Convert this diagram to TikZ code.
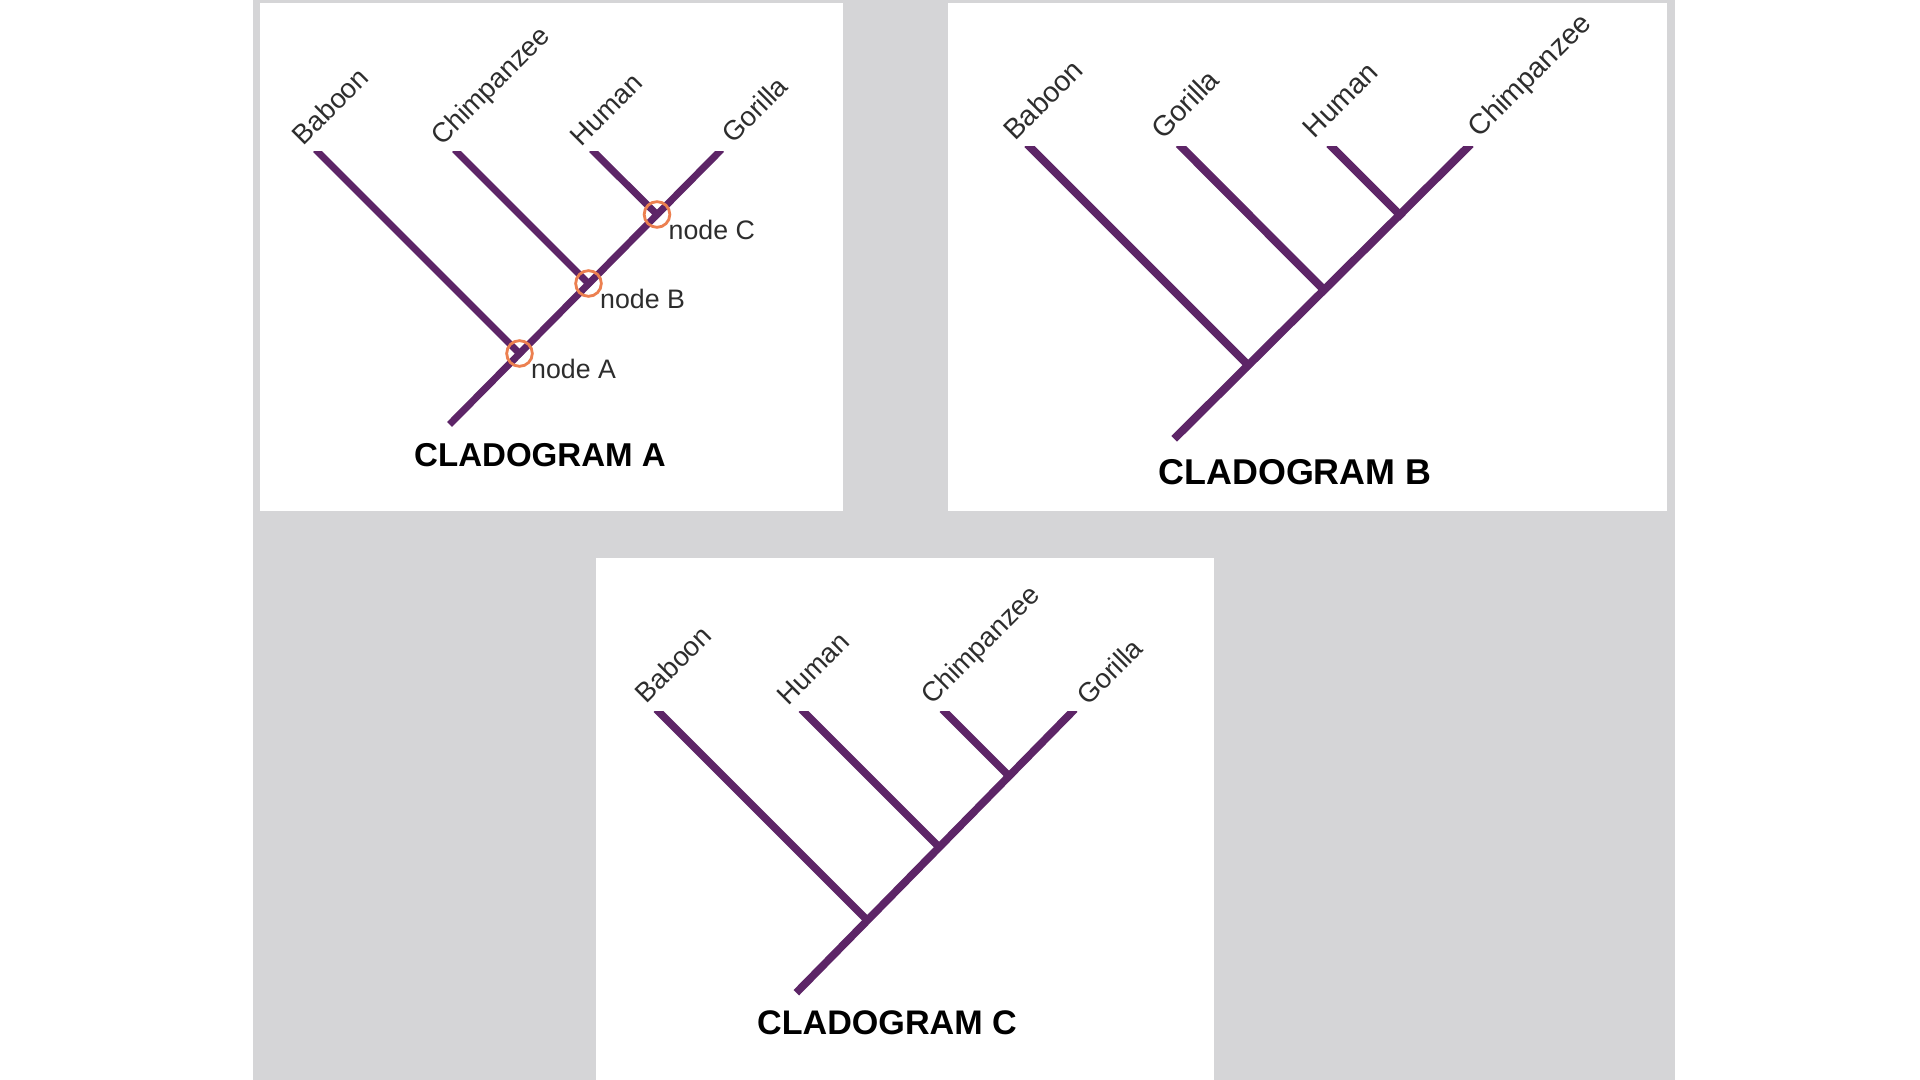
\documentclass[tikz,border=0pt]{standalone}
\usepackage{fontspec}
\setmainfont{Liberation Sans}
\definecolor{cladepurple}{RGB}{93,37,103}
\definecolor{ringorange}{RGB}{236,128,80}
\definecolor{clothgray}{RGB}{213,213,215}
\definecolor{labelgray}{RGB}{45,45,45}
\tikzstyle{whitebox}=[
      fill = white,
      draw = none
      ]
\tikzstyle{purpleline}=[
      draw = cladepurple,
      line cap = rect
      ]
\tikzstyle{taxon}=[
      rotate = 45,
      anchor = base west,
      inner sep = 0pt,
      text = labelgray,
      font = \fontsize{7.8}{9}\selectfont
      ]
\tikzstyle{ringnode}=[
      circle,
      draw = ringorange,
      line width = 0.8pt,
      inner sep = 0pt,
      minimum size = 7.3pt
      ]
\tikzstyle{nodetext}=[
      anchor = base west,
      inner sep = 0pt,
      text = labelgray,
      font = \fontsize{7.6}{9}\selectfont
      ]
\tikzstyle{titletext}=[
      inner sep = 0pt,
      text = black
      ]
\begin{document}
\begin{tikzpicture}[x=0.01cm, y=-0.01cm]
\useasboundingbox (0,0) rectangle (1920,1080);
\fill[white] (0,0) rectangle (1920,1080);
\fill[clothgray] (253,0) rectangle (1675,1080);
\path[whitebox] (260,3) rectangle (843,511);
\path[whitebox] (948,3) rectangle (1667,511);
\path[whitebox] (596,558) rectangle (1214,1080);

\coordinate (aBab) at (318,152);
\coordinate (aChi) at (457,152);
\coordinate (aHum) at (594,152);
\coordinate (aGor) at (719,152);
\coordinate (aRoot) at (452,422);
\coordinate (aNa) at (519.5,353.5);
\coordinate (aNb) at (588.5,283.5);
\coordinate (aNc) at (657,214.5);
\begin{scope}[line width=2pt]
  \clip (260,152) rectangle (843,511);
  \draw[purpleline] (aRoot) -- (aGor);
  \draw[purpleline] (aBab) -- (aNa);
  \draw[purpleline] (aChi) -- (aNb);
  \draw[purpleline] (aHum) -- (aNc);
\end{scope}
\node[taxon] (aBabText) at ([shift={(-15,-5)}]aBab) {Baboon};
\node[taxon] (aChiText) at ([shift={(-15,-5)}]aChi) {Chimpanzee};
\node[taxon] (aHumText) at ([shift={(-13,-4)}]aHum) {Human};
\node[taxon] (aGorText) at ([shift={(14,-7)}]aGor) {Gorilla};
\node[ringnode] (aRingA) at (aNa) {};
\node[ringnode] (aRingB) at (aNb) {};
\node[ringnode] (aRingC) at (aNc) {};
\node[nodetext] (aTextA) at ([shift={(11,25)}]aNa) {node A};
\node[nodetext] (aTextB) at ([shift={(11,25)}]aNb) {node B};
\node[nodetext] (aTextC) at ([shift={(11,25)}]aNc) {node C};
\node[titletext, font=\bfseries\fontsize{9.4}{11}\selectfont] (titleA) at (540,455) {CLADOGRAM A};

\coordinate (bBab) at (1030,147);
\coordinate (bGor) at (1181.5,147);
\coordinate (bHum) at (1332,147);
\coordinate (bChi) at (1468,147);
\coordinate (bRoot) at (1177,436);
\coordinate (bNa) at (1248,365);
\coordinate (bNb) at (1324,290);
\coordinate (bNc) at (1400,215);
\begin{scope}[line width=2.3pt]
  \clip (948,147) rectangle (1667,511);
  \draw[purpleline] (bRoot) -- (bChi);
  \draw[purpleline] (bBab) -- (bNa);
  \draw[purpleline] (bGor) -- (bNb);
  \draw[purpleline] (bHum) -- (bNc);
\end{scope}
\node[taxon, font=\fontsize{8.1}{10}\selectfont] (bBabText) at ([shift={(-15,-5)}]bBab) {Baboon};
\node[taxon, font=\fontsize{8.1}{10}\selectfont] (bGorText) at ([shift={(-19,-6)}]bGor) {Gorilla};
\node[taxon, font=\fontsize{8.1}{10}\selectfont] (bHumText) at ([shift={(-18,-7)}]bHum) {Human};
\node[taxon, font=\fontsize{8.1}{10}\selectfont] (bChiText) at ([shift={(11,-8)}]bChi) {Chimpanzee};
\node[titletext, font=\bfseries\fontsize{10.2}{12}\selectfont] (titleB) at (1295,472) {CLADOGRAM B};

\coordinate (cBab) at (659,712);
\coordinate (cHum) at (804,712);
\coordinate (cChi) at (945,712);
\coordinate (cGor) at (1072,712);
\coordinate (cRoot) at (799,990);
\coordinate (cNa) at (867,920);
\coordinate (cNb) at (939,847);
\coordinate (cNc) at (1009,776);
\begin{scope}[line width=2.2pt]
  \clip (596,712) rectangle (1214,1080);
  \draw[purpleline] (cRoot) -- (cGor);
  \draw[purpleline] (cBab) -- (cNa);
  \draw[purpleline] (cHum) -- (cNb);
  \draw[purpleline] (cChi) -- (cNc);
\end{scope}
\node[taxon] (cBabText) at ([shift={(-13,-7)}]cBab) {Baboon};
\node[taxon] (cHumText) at ([shift={(-16,-5)}]cHum) {Human};
\node[taxon] (cChiText) at ([shift={(-13,-6)}]cChi) {Chimpanzee};
\node[taxon] (cGorText) at ([shift={(16,-5)}]cGor) {Gorilla};
\node[titletext, font=\bfseries\fontsize{9.7}{11}\selectfont] (titleC) at (887,1023) {CLADOGRAM C};
\end{tikzpicture}
\end{document}
